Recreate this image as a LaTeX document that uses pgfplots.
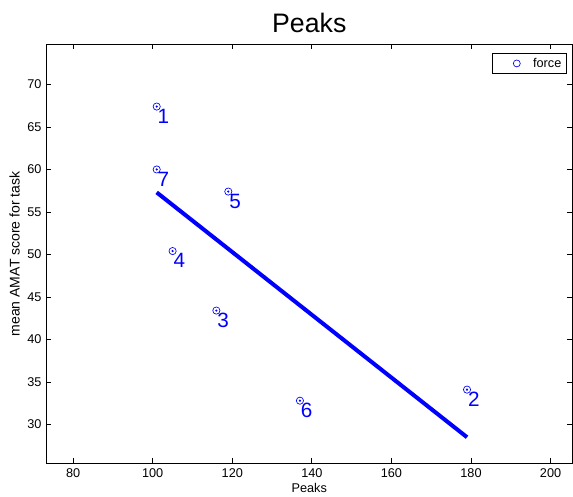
\documentclass[border=0pt]{standalone}
\usepackage{pgfplots}
\pgfplotsset{compat=1.18}
\usepackage{fontspec}
\setmainfont{Liberation Sans}
\begin{document}
\begin{tikzpicture}
\begin{axis}[
  scale only axis, width=394pt, height=314pt,
  xmin=73.2, xmax=205.5, ymin=25.4, ymax=74.75,
  xtick={80,100,...,200}, ytick={30,35,...,70},
  tick align=inside, major tick length=4pt,
  axis line style={line width=0.8pt},
  tick style={black, line width=0.6pt},
  title={Peaks},
  title style={font=\fontsize{20}{24}\selectfont, inner sep=0pt, yshift=2pt},
  xlabel={Peaks}, ylabel={mean AMAT score for task},
  xlabel style={font=\fontsize{9.5}{11}\selectfont, inner sep=1pt},
  ylabel style={font=\fontsize{10.5}{12}\selectfont, inner sep=0pt,
    at={(axis description cs:-0.0495,0.5)}, anchor=south},
  ticklabel style={font=\fontsize{9.5}{11}\selectfont},
  /pgf/number format/assume math mode=true,
  legend style={at={(0.99,0.978)}, anchor=north east, draw=black, line width=0.8pt,
    font=\fontsize{9.5}{11}\selectfont, inner xsep=2pt, inner ysep=1pt},
  legend image code/.code={\draw[blue, line width=0.5pt] (0.55cm,0cm) circle (2.6pt); \path (0,0) (0.9cm,0);},
  legend cell align=left,
]
\addplot[blue, line width=0.5pt, only marks, mark=o, mark size=2.7pt,
  nodes near coords, point meta=explicit symbolic,
  nodes near coords style={anchor=north west, inner sep=0pt, xshift=0.5pt, yshift=-1.5pt,
    font=\fontsize{15.5}{18}\selectfont, text=blue}]
  table[meta=label] {
x y label
101 67.4 1
179 34.1 2
116 43.4 3
105 50.4 4
119 57.4 5
137 32.8 6
101 60.0 7
};
\addlegendentry{force}
\addplot[blue, only marks, mark=*, mark size=0.6pt, forget plot] table {
x y
101 67.4
179 34.1
116 43.4
105 50.4
119 57.4
137 32.8
101 60.0
};
\addplot[blue, line width=3pt, forget plot] coordinates {(101,57.3) (179,28.5)};
\end{axis}
\path (current axis.south west) ++(-34.5pt,-24.75pt) coordinate (bl);
\path (current axis.north east) ++(0.4pt,33pt) coordinate (tr);
\path (bl) rectangle (tr);
\end{tikzpicture}
\end{document}
